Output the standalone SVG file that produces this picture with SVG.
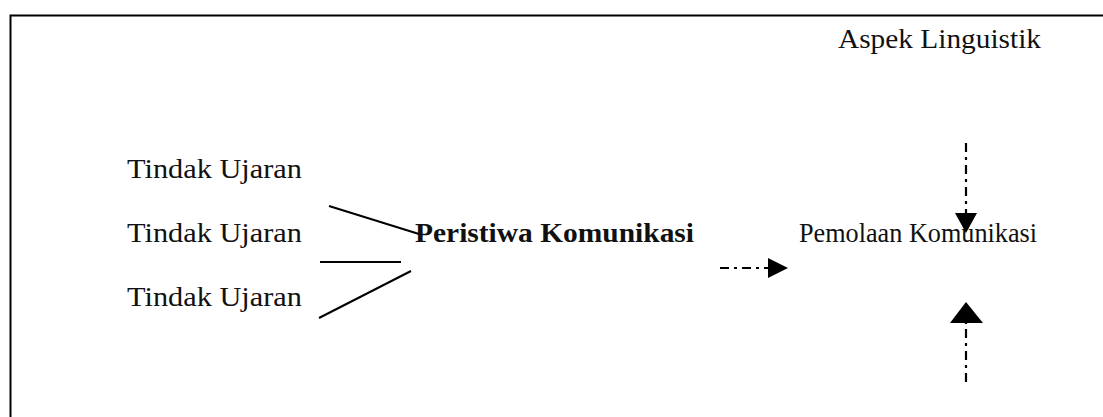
<svg xmlns="http://www.w3.org/2000/svg" width="1103" height="417" viewBox="0 0 1103 417">
<style>
text{font-family:"Liberation Serif","Times New Roman",serif;font-size:28px;fill:#111}
.b{font-weight:bold}
.ln{stroke:#000;stroke-width:2;fill:none}
.dd{stroke:#000;stroke-width:2.2;fill:none;stroke-dasharray:9,5,3,5}
</style>
<rect width="1103" height="417" fill="#fff"/>
<path d="M10.5,430 V15.5 H1110" stroke="#000" stroke-width="2" fill="none"/>
<g id="aspek"><text x="838" y="48" textLength="203" lengthAdjust="spacingAndGlyphs">Aspek Linguistik</text></g>
<g id="tu1"><text x="127" y="178" textLength="175" lengthAdjust="spacingAndGlyphs">Tindak Ujaran</text></g>
<g id="tu2"><text x="127" y="242" textLength="175" lengthAdjust="spacingAndGlyphs">Tindak Ujaran</text></g>
<g id="tu3"><text x="127" y="306" textLength="175" lengthAdjust="spacingAndGlyphs">Tindak Ujaran</text></g>
<g id="peristiwa"><text class="b" x="415" y="242" textLength="279" lengthAdjust="spacingAndGlyphs">Peristiwa Komunikasi</text></g>
<g id="pemolaan"><text x="799" y="242" textLength="238" lengthAdjust="spacingAndGlyphs">Pemolaan Komunikasi</text></g>
<g id="connectors">
<line class="ln" x1="329" y1="206" x2="419" y2="234"/>
<line class="ln" x1="320" y1="262" x2="401" y2="262"/>
<line class="ln" x1="319" y1="318" x2="411" y2="271"/>
<line class="dd" x1="720" y1="268" x2="768" y2="268"/>
<path d="M768,258 L788,268 L768,278 Z" fill="#000"/>
<line class="dd" x1="966" y1="143" x2="966" y2="213"/>
<path d="M955,213 L977,213 L966,233 Z" fill="#000"/>
<line class="dd" x1="966" y1="382" x2="966" y2="323"/>
<path d="M950,323 L983,323 L966,302 Z" fill="#000"/>
</g>
</svg>
